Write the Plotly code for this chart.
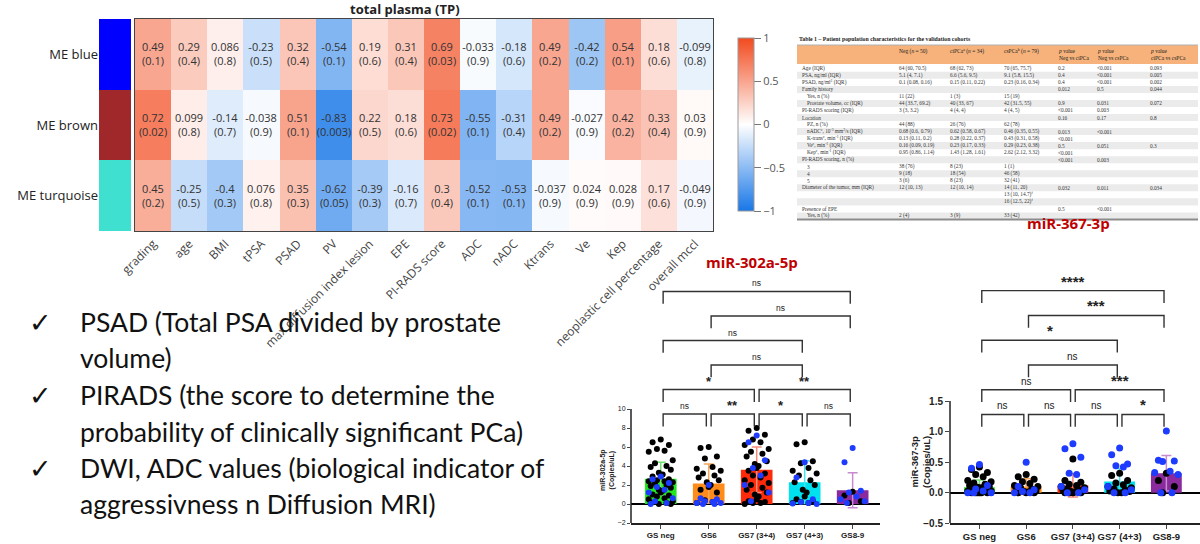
import plotly.graph_objects as go

# ---------------- heatmap data ----------------
modules = ["ME blue", "ME brown", "ME turquoise"]
module_colors = ["#0000FF", "#A0282A", "#40E0D0"]
traits = ["grading", "age", "BMI", "tPSA", "PSAD", "PV", "max diffusion index lesion", "EPE",
          "PI-RADS score", "ADC", "nADC", "Ktrans", "Ve", "Kep", "neoplastic cell percentage",
          "overall mccl"]
corr = [
    [0.49, 0.29, 0.086, -0.23, 0.32, -0.54, 0.19, 0.31, 0.69, -0.033, -0.18, 0.49, -0.42, 0.54, 0.18, -0.099],
    [0.72, 0.099, -0.14, -0.038, 0.51, -0.83, 0.22, 0.18, 0.73, -0.55, -0.31, 0.49, -0.027, 0.42, 0.33, 0.03],
    [0.45, -0.25, -0.4, 0.076, 0.35, -0.62, -0.39, -0.16, 0.3, -0.52, -0.53, -0.037, 0.024, 0.028, 0.17, -0.049],
]
pvals = [
    [0.1, 0.4, 0.8, 0.5, 0.4, 0.1, 0.6, 0.4, 0.03, 0.9, 0.6, 0.2, 0.2, 0.1, 0.6, 0.8],
    [0.02, 0.8, 0.7, 0.9, 0.1, 0.003, 0.5, 0.6, 0.02, 0.1, 0.4, 0.2, 0.9, 0.2, 0.4, 0.9],
    [0.2, 0.5, 0.3, 0.8, 0.3, 0.05, 0.3, 0.7, 0.4, 0.1, 0.1, 0.9, 0.9, 0.9, 0.6, 0.9],
]

# ---------------- table data ----------------
tbl_header = ["", "Neg (<i>n</i> = 50)", "ciPCa<sup>a</sup> (<i>n</i> = 34)", "csPCa<sup>b</sup> (<i>n</i> = 79)",
              "<i>p</i> value<br>Neg vs ciPCa", "<i>p</i> value<br>Neg vs csPCa", "<i>p</i> value<br>ciPCa vs csPCa"]
tbl_label = ["Age (IQR)", "PSA, ng/ml (IQR)", "PSAD, ng/ml<sup>2</sup> (IQR)", "Family history", "  Yes, n (%)",
             "  Prostate volume, cc (IQR)", "PI-RADS scoring (IQR)", "Location", "  PZ, n (%)",
             "  nADC<sup>c</sup>, 10<sup>-3</sup> mm<sup>2</sup>/s (IQR)", "  K-trans<sup>c</sup>, min<sup>-1</sup> (IQR)",
             "  Ve<sup>c</sup>, min<sup>-1</sup> (IQR)", "  Kep<sup>c</sup>, min<sup>-1</sup> (IQR)",
             "PI-RADS scoring, n (%)", "  3", "  4", "  5", "Diameter of the tumor, mm (IQR)", "", "",
             "Presence of EPE", "  Yes, n (%)"]
tbl_neg = ["64 (60, 70.5)", "5.1 (4, 7.1)", "0.1 (0.08, 0.16)", "", "11 (22)", "44 (33.7, 69.2)", "3 (3, 3.2)", "",
           "44 (88)", "0.68 (0.6, 0.79)", "0.13 (0.11, 0.2)", "0.16 (0.09, 0.19)", "0.95 (0.86, 1.14)", "",
           "38 (76)", "9 (18)", "3 (6)", "12 (10, 13)", "", "", "", "2 (4)"]
tbl_ci = ["68 (62, 73)", "6.6 (5.6, 9.5)", "0.15 (0.11, 0.22)", "", "1 (3)", "40 (33, 67)", "4 (4, 4)", "",
          "26 (76)", "0.62 (0.58, 0.67)", "0.28 (0.22, 0.37)", "0.23 (0.17, 0.33)", "1.43 (1.28, 1.61)", "",
          "8 (23)", "18 (54)", "8 (23)", "12 (10, 14)", "", "", "", "3 (9)"]
tbl_cs = ["70 (65, 75.7)", "9.1 (5.8, 15.5)", "0.23 (0.16, 0.34)", "", "15 (19)", "42 (31.5, 55)", "4 (4, 5)", "",
          "62 (78)", "0.46 (0.35, 0.55)", "0.43 (0.31, 0.58)", "0.29 (0.23, 0.38)", "2.62 (2.12, 3.32)", "",
          "1 (1)", "46 (58)", "32 (41)", "14 (11, 20)", "13 (10, 14.7)<sup>f</sup>", "16 (12.5, 22)<sup>f</sup>", "",
          "33 (42)"]
tbl_p1 = ["0.2", "0.4", "0.4", "0.012", "", "0.9", "<0.001", "0.16", "", "0.013", "<0.001", "0.5", "<0.001",
          "<0.001", "", "", "", "0.032", "", "", "0.5", ""]
tbl_p2 = ["<0.001", "<0.001", "<0.001", "0.5", "", "0.031", "0.003", "0.17", "", "<0.001", "", "0.051", "",
          "0.003", "", "", "", "0.011", "", "", "<0.001", ""]
tbl_p3 = ["0.093", "0.005", "0.002", "0.044", "", "0.072", "", "0.8", "", "", "", "0.3", "", "", "", "", "",
          "0.034", "", "", "", ""]

# ---------------- bar chart data ----------------
groups = ["GS neg", "GS6", "GS7 (3+4)", "GS7 (4+3)", "GS8-9"]
bar_colors = ["#22E622", "#FF8C1A", "#FF2A0A", "#00E1F0", "#8A2A9C"]
err_colors = ["#70E070", "#F5A85A", "#F58A7A", "#40E4F0", "#C88AD0"]

mir302_mean = [2.65, 2.15, 3.6, 2.3, 1.45]
mir302_sd = [1.75, 2.05, 2.4, 2.25, 1.85]
mir302_black = [
    [6.8, 6.5, 6.2, 5.8, 5.6, 5.5, 4.6, 4.3, 4.0, 3.9, 3.6, 3.3, 3.1, 3.0, 2.9, 2.6, 2.5, 2.4, 2.4, 2.3, 2.2,
     2.0, 1.9, 1.7, 1.5, 1.4, 1.2, 1.0, 0.9, 0.8, 0.6, 0.5, 0.3, 0.2, 0.1, 0.1, 0.0, 0.0],
    [6.0, 5.9, 5.0, 4.8, 3.9, 3.7, 3.5, 3.2, 3.0, 2.8, 2.5, 2.3, 2.0, 1.8, 1.5, 1.2, 0.4, 0.2, 0.1],
    [8.0, 7.7, 7.3, 6.8, 6.5, 6.2, 5.8, 5.5, 5.3, 5.0, 4.5, 4.2, 4.0, 3.8, 3.5, 3.2, 3.0, 2.8, 2.5, 2.2, 2.0,
     1.7, 1.5, 1.2, 1.0, 0.8, 0.5, 0.3, 0.2, 0.1, 0.1, 0.0],
    [6.5, 6.3, 4.5, 4.3, 3.8, 3.5, 3.2, 3.0, 2.5, 2.3, 2.0, 1.5, 1.2, 0.8, 0.5, 0.3, 0.2, 0.1, 0.1],
    [1.3, 0.9, 0.3, 0.1],
]
mir302_blue = [
    [2.9, 2.6, 2.2, 1.8, 1.5, 1.2, 0.6, 0.3, 0.1, 0.0],
    [2.0, 0.6, 0.5, 0.3, 0.2, 0.1, 0.1, 0.0, 0.0],
    [7.2, 6.5, 4.6, 3.8, 3.0, 2.0, 1.2, 0.3],
    [4.4, 2.8, 0.5, 0.2, 0.1, 0.05, 0.0],
    [5.9, 4.4, 1.4, 1.2, 0.8, 0.5, 0.3, 0.1],
]
mir302_tests = [(0, 1, "ns"), (1, 2, "**"), (2, 3, "*"), (3, 4, "ns"), (0, 2, "*"), (2, 4, "**"),
                (1, 3, "ns"), (0, 3, "ns"), (1, 4, "ns"), (0, 4, "ns")]

mir367_mean = [0.09, 0.1, 0.12, 0.185, 0.32]
mir367_sd = [0.12, 0.13, 0.19, 0.21, 0.29]
mir367_black = [
    [0.42, 0.38, 0.33, 0.3, 0.26, 0.2, 0.18, 0.16, 0.14, 0.12, 0.1, 0.09, 0.08, 0.07, 0.06, 0.05, 0.05, 0.04,
     0.03, 0.03, 0.02, 0.02, 0.01, 0.01, 0.0, 0.0, 0.0, 0.0, 0.0, 0.0],
    [0.3, 0.26, 0.22, 0.18, 0.15, 0.12, 0.1, 0.08, 0.06, 0.05, 0.03, 0.02, 0.01, 0.0, 0.0, 0.0],
    [0.55, 0.2, 0.17, 0.14, 0.12, 0.1, 0.08, 0.06, 0.05, 0.04, 0.03, 0.02, 0.01, 0.0, 0.0, 0.0, 0.0],
    [0.32, 0.28, 0.2, 0.16, 0.13, 0.1, 0.08, 0.06, 0.05, 0.03, 0.02, 0.0, 0.0],
    [0.32, 0.2, 0.1, 0.0],
]
mir367_blue = [
    [0.46, 0.4, 0.12, 0.06, 0.03, 0.0, 0.0, 0.0],
    [0.5, 0.1, 0.05, 0.02, 0.0, 0.0],
    [0.8, 0.72, 0.58, 0.32, 0.3, 0.1, 0.05, 0.0, 0.0],
    [0.73, 0.62, 0.47, 0.44, 0.42, 0.1, 0.05, 0.0, 0.0],
    [1.01, 0.53, 0.52, 0.51, 0.35, 0.33, 0.3, 0.0, 0.0],
]
mir367_tests = [(0, 1, "ns"), (1, 2, "ns"), (2, 3, "ns"), (3, 4, "*"), (0, 2, "ns"), (2, 4, "***"),
                (1, 3, "ns"), (0, 3, "*"), (1, 4, "***"), (0, 4, "****")]
test_levels = [0, 0, 0, 0, 1, 1, 2, 3, 4, 5]

bullets = [
    ("PSAD (Total PSA divided by prostate", True),
    ("volume)", False),
    ("PIRADS (the score to determine the", True),
    ("probability of clinically significant PCa)", False),
    ("DWI, ADC values (biological indicator of", True),
    ("aggressivness n Diffusion MRI)", False),
]

W, H = 1200, 544
def px(x):
    return x / W
def py(y):
    return 1 - y / H

fig = go.Figure()

# module colour strip
n_mod = len(modules)
strip_scale = []
for i, c in enumerate(module_colors):
    strip_scale.append([i / n_mod, c])
    strip_scale.append([(i + 1) / n_mod, c])
fig.add_trace(go.Heatmap(
    z=[[i] for i in range(n_mod)], x=[0], y=modules, zmin=-0.5, zmax=n_mod - 0.5,
    colorscale=strip_scale, showscale=False, xaxis="x", yaxis="y", hoverinfo="skip"))

# correlation heatmap
cell_text = [[f"{c:g}<br>({p:g})" for c, p in zip(rc, rp)] for rc, rp in zip(corr, pvals)]
fig.add_trace(go.Heatmap(
    z=corr, x=traits, y=modules, zmin=-1, zmax=1, xaxis="x2", yaxis="y2",
    colorscale=[[0, "#1877E8"], [0.5, "#FFFFFF"], [1, "#F24A1E"]],
    text=cell_text, texttemplate="%{text}",
    textfont=dict(family="Open Sans", size=11, color="#333333"),
    colorbar=dict(x=px(738), xanchor="left", y=py(124.5), yanchor="middle", len=173 / H,
                  xpad=0, ypad=0, thickness=16, outlinecolor="#999999", outlinewidth=1,
                  tickvals=[-1, -0.5, 0, 0.5, 1], ticks="outside", ticklen=7, tickcolor="#777777",
                  tickfont=dict(family="Open Sans", size=11, color="#555555"))))


def spread(vals):
    pattern = [0, -0.17, 0.17, -0.08, 0.08, -0.25, 0.25, -0.12, 0.12, -0.21, 0.21, -0.04, 0.04]
    return [pattern[k % len(pattern)] for k in range(len(vals))]


def bar_panel(xa, ya, means, sds, blacks, blues, tests, base, step, leg, msize, lblsize, starsize):
    for i, g in enumerate(groups):
        fig.add_trace(go.Bar(
            x=[i], y=[means[i]], width=0.66, marker=dict(color=bar_colors[i], line=dict(width=0)),
            error_y=dict(type="data", array=[sds[i]], color=err_colors[i], thickness=1.5, width=5),
            xaxis=xa, yaxis=ya, showlegend=False))
    for i in range(len(groups)):
        for vals, col in ((blacks[i], "#000000"), (blues[i], "#1E3CFF")):
            fig.add_trace(go.Scatter(
                x=[i + o for o in spread(vals)], y=vals, mode="markers",
                marker=dict(color=col, size=msize), xaxis=xa, yaxis=ya, showlegend=False))
    d = 0.05
    for (a, b, lab), lv in zip(tests, test_levels):
        yl = base + lv * step
        fig.add_trace(go.Scatter(
            x=[a + d, a + d, b - d, b - d], y=[yl - leg, yl, yl, yl - leg], mode="lines",
            line=dict(color="#333333", width=1.4), xaxis=xa, yaxis=ya, showlegend=False,
            hoverinfo="skip"))
        is_star = lab != "ns"
        fig.add_annotation(
            x=(a + b) / 2, y=yl, xref=xa, yref=ya, text=lab, showarrow=False,
            xanchor="center", yanchor="bottom", yshift=-1 if is_star else 1,
            font=dict(family="Liberation Sans", size=starsize if is_star else lblsize, color="#222222",
                      weight="bold" if is_star else "normal"))


bar_panel("x3", "y3", mir302_mean, mir302_sd, mir302_black, mir302_blue, mir302_tests,
          9.47, 2.58, 1.3, 6, 8.5, 13)
bar_panel("x4", "y4", mir367_mean, mir367_sd, mir367_black, mir367_blue, mir367_tests,
          1.28, 0.405, 0.2, 7, 10, 15)

ax_common = dict(showgrid=False, automargin=False)
fig.update_layout(
    width=W, height=H, margin=dict(l=0, r=0, t=0, b=0, autoexpand=False),
    paper_bgcolor="white", plot_bgcolor="white", barmode="overlay",
    font=dict(family="Liberation Sans", color="#222222"),
    xaxis=dict(domain=[px(99), px(131)], anchor="y", showticklabels=False, zeroline=False, **ax_common),
    yaxis=dict(domain=[py(231), py(19)], anchor="x", autorange="reversed", ticks="",
               tickfont=dict(family="Open Sans", size=13, color="#222222"), **ax_common),
    xaxis2=dict(domain=[px(135), px(713)], anchor="y2", tickangle=-45, ticks="",
                tickfont=dict(family="Open Sans", size=12, color="#444444"),
                showline=True, mirror=True, linecolor="#444444", linewidth=1.2, **ax_common),
    yaxis2=dict(domain=[py(231), py(19)], anchor="x2", autorange="reversed", showticklabels=False,
                showline=True, mirror=True, linecolor="#444444", linewidth=1.2, **ax_common),
    xaxis3=dict(domain=[px(631), px(880)], anchor="y3", range=[-0.62, 4.57], tickangle=0,
                tickvals=list(range(len(groups))), ticktext=groups, ticks="outside", ticklen=4,
                showline=True, linecolor="#222222", linewidth=1.5, zeroline=False,
                tickfont=dict(size=8, weight="bold", color="#222222"), **ax_common),
    yaxis3=dict(domain=[py(523), py(276)], anchor="x3", range=[-2, 24],
                tickvals=[-2, 0, 2, 4, 6, 8, 10], ticks="outside", ticklen=3, showline=False,
                zeroline=True, zerolinecolor="#000000", zerolinewidth=2,
                tickfont=dict(size=7, color="#222222"), **ax_common),
    xaxis4=dict(domain=[px(950), px(1200)], anchor="y4", range=[-0.63, 4.72], tickangle=0,
                tickvals=list(range(len(groups))), ticktext=groups, ticks="outside", ticklen=4,
                showline=True, linecolor="#222222", linewidth=1.5, zeroline=False,
                tickfont=dict(size=9.5, weight="bold", color="#222222"), **ax_common),
    yaxis4=dict(domain=[py(523.3), py(281.8)], anchor="x4", range=[-0.5, 3.45],
                tickvals=[-0.5, 0, 0.5, 1.0, 1.5], tickformat=".1f", ticks="outside", ticklen=4,
                showline=False, zeroline=True, zerolinecolor="#000000", zerolinewidth=2,
                tickfont=dict(size=10, weight="bold", color="#222222"), **ax_common),
)

# y-axis lines only over the tick span
fig.add_shape(type="line", xref="x3 domain", x0=0, x1=0, yref="y3", y0=-2, y1=10,
              line=dict(color="#222222", width=1.5))
fig.add_shape(type="line", xref="x4 domain", x0=0, x1=0, yref="y4", y0=-0.5, y1=1.5,
              line=dict(color="#222222", width=1.5))

# ---------------- table (drawn as text) ----------------
t_left, t_right = 797, 1198
col_x = [800, 897, 948, 1002, 1056, 1095, 1148]
row_y0, row_h = 68.3, 7.03
tfont = dict(family="Liberation Serif", size=5.3, color="#333333")
fig.add_shape(type="rect", xref="paper", yref="paper", x0=px(t_left), x1=px(t_right),
              y0=py(64), y1=py(45), fillcolor="#F6B27A", line=dict(width=0), layer="below")
for k in range(len(tbl_label)):
    yc = row_y0 + k * row_h
    if k % 2 == 1:
        fig.add_shape(type="rect", xref="paper", yref="paper", x0=px(t_left), x1=px(t_right),
                      y0=py(yc + row_h / 2), y1=py(yc - row_h / 2), fillcolor="#EBEBEB",
                      line=dict(width=0), layer="below")
fig.add_shape(type="line", xref="paper", yref="paper", x0=px(t_left), x1=px(t_right),
              y0=py(219.5), y1=py(219.5), line=dict(color="#8C8C8C", width=2))
fig.add_shape(type="line", xref="paper", yref="paper", x0=px(t_left), x1=px(t_right),
              y0=py(45), y1=py(45), line=dict(color="#B0B0B0", width=1))

for cx, htxt in zip(col_x, tbl_header):
    if htxt:
        fig.add_annotation(x=px(cx), y=py(46.5), xref="paper", yref="paper", xanchor="left", yanchor="top",
                           text=htxt, showarrow=False, align="left",
                           font=dict(family="Liberation Serif", size=5.5, color="#222222"))
columns = [tbl_label, tbl_neg, tbl_ci, tbl_cs, tbl_p1, tbl_p2, tbl_p3]
for ci, col in enumerate(columns):
    for k, txt in enumerate(col):
        if not txt:
            continue
        indent = 5 if txt.startswith("  ") else 0
        fig.add_annotation(x=px(col_x[ci] + indent), y=py(row_y0 + k * row_h), xref="paper", yref="paper",
                           xanchor="left", yanchor="middle", text=txt.strip(), showarrow=False, font=tfont)

# texts
fig.add_annotation(x=px(405), y=py(9), xref="paper", yref="paper", text="<b>total plasma (TP)</b>",
                   xanchor="center", yanchor="middle", showarrow=False,
                   font=dict(family="Open Sans", size=13, color="#222222"))
fig.add_annotation(x=px(797), y=py(39), xref="paper", yref="paper", xanchor="left", yanchor="middle",
                   text="<b>Table 1 – Patient population characteristics for the validation cohorts</b>",
                   showarrow=False, font=dict(family="Liberation Serif", size=5.8, color="#222222"))
fig.add_annotation(x=px(752), y=py(262), xref="paper", yref="paper", text="<b>miR-302a-5p</b>",
                   xanchor="center", yanchor="middle", showarrow=False,
                   font=dict(family="Open Sans", size=15, color="#C00000"))
fig.add_annotation(x=px(1068), y=py(223), xref="paper", yref="paper", text="<b>miR-367-3p</b>",
                   xanchor="center", yanchor="middle", showarrow=False,
                   font=dict(family="Open Sans", size=15, color="#C00000"))
fig.add_annotation(x=px(607), y=py(470), xref="paper", yref="paper", textangle=-90,
                   xanchor="center", yanchor="middle",
                   text="<b>miR-302a-5p<br>(Copies/uL)</b>", showarrow=False,
                   font=dict(size=7, color="#222222"))
fig.add_annotation(x=px(920), y=py(462), xref="paper", yref="paper", textangle=-90,
                   xanchor="center", yanchor="middle",
                   text="<b>miR-367-3p<br>(Copies/uL)</b>", showarrow=False,
                   font=dict(size=9.5, color="#222222"))

line_y = [322, 358, 395, 431.5, 468, 504]
for (txt, check), yy in zip(bullets, line_y):
    if check:
        fig.add_annotation(x=px(40), y=py(yy), xref="paper", yref="paper", text="✓", showarrow=False,
                           xanchor="center", yanchor="middle",
                           font=dict(family="DejaVu Sans", size=27, color="#111111"))
    fig.add_annotation(x=px(78), y=py(yy), xref="paper", yref="paper", xanchor="left", yanchor="middle",
                       text=txt, showarrow=False, font=dict(family="Lato", size=26.5, color="#111111"))

# the page body has a default 8px margin; drop it so the figure sits at the window origin
fig.write_html("out.html", config={"displayModeBar": False},
               post_script="document.body.style.margin='0px';")
